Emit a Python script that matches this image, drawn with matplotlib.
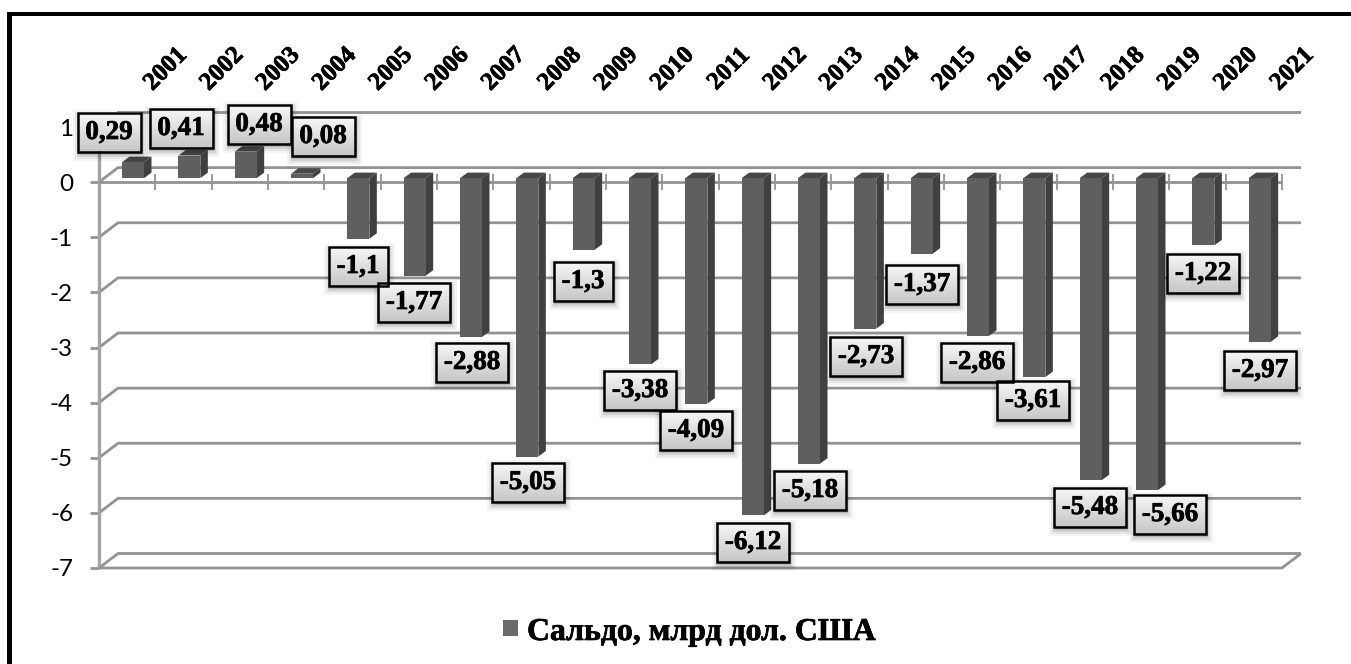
import numpy as np
import matplotlib
matplotlib.use("Agg")
import matplotlib.pyplot as plt
import matplotlib.patheffects as pe
from matplotlib.patches import Polygon, Rectangle

years = [str(y) for y in range(2001, 2022)]
values = [0.29, 0.41, 0.48, 0.08, -1.1, -1.77, -2.88, -5.05, -1.3, -3.38, -4.09,
          -6.12, -5.18, -2.73, -1.37, -2.86, -3.61, -5.48, -5.66, -1.22, -2.97]
value_ticks = [1, 0, -1, -2, -3, -4, -5, -6, -7]
legend_label = "Сальдо, млрд дол. США"
# label-box centres in reference pixels (layout only)
label_centres = [(109,132),(181,128),(259,124),(323,136),(358,266),(414,302),(472,362),
                 (528,482),(583,281),(640,390),(696,430),(753,542),(810,490),(866,356),
                 (922,284),(977,362),(1033,400),(1090,507),(1170,514),(1203,273),(1260,370)]

W, H = 1351, 664
fig = plt.figure(figsize=(W/100, H/100), dpi=100, facecolor="white")
L, R, T, B = 99, 1282, 127, 568
ax = fig.add_axes([L/W, 1-B/H, (R-L)/W, (B-T)/H])
ax.set_xlim(0, 21); ax.set_ylim(-7, 1)
ax.axis("off")
over = fig.add_axes([0, 0, 1, 1], zorder=5)
over.set_xlim(0, W); over.set_ylim(H, 0); over.axis("off"); over.patch.set_alpha(0)

heavy = [pe.withStroke(linewidth=0.5, foreground="black")]
px = 21/(R-L); py = 8/(B-T)
wall_dx, wall_dy = 19*px, 14.5*py
GRID = "#939393"
kw = dict(clip_on=False, color=GRID, lw=2.0, solid_capstyle="butt", solid_joinstyle="miter")
for v in value_ticks:
    ax.plot([0, wall_dx, 21+wall_dx], [v, v+wall_dy, v+wall_dy], zorder=1, **kw)
    ax.plot([-9*px, 0], [v, v], zorder=1, **kw)
ax.plot([0, 0], [-7, 1], zorder=2, clip_on=False, color="#a3a3a3", lw=2.4, solid_capstyle="butt")
ax.plot([0, 21, 21+wall_dx], [-7, -7, -7+wall_dy], zorder=2, **kw)
ax.plot([0, 21], [0, 0], zorder=2, **kw)
for i in range(1, 22):
    ax.plot([i, i], [8*py, -8*py], zorder=2, clip_on=False, color=GRID, lw=1.3, solid_capstyle="butt")

# 3-D columns
bw = 22*px
dx, dy = 7.5*px, 5.5*py
base = 4*py
for i, v in enumerate(values):
    x0 = i + (122-99)*px
    x1 = x0 + bw
    y0 = base; y1 = v + base
    hi, lo = max(y0, y1), min(y0, y1)
    ax.add_patch(Polygon([(x1, lo), (x1+dx, lo+dy), (x1+dx, hi+dy), (x1, hi)], fc="#404040", ec="none", zorder=3, clip_on=False))
    ax.add_patch(Polygon([(x0, hi), (x1, hi), (x1+dx, hi+dy), (x0+dx, hi+dy)], fc="#474747", ec="none", zorder=3, clip_on=False))
    ax.add_patch(Rectangle((x0, lo), bw, hi-lo, fc="#5f5f5f", ec="none", zorder=3, clip_on=False))

for v in value_ticks:
    ax.text(-26*px, v-2*py, str(v), ha="right", va="center", fontsize=17.5, family="Lato", color="black", clip_on=False)
for i, y in enumerate(years):
    over.text(165.5+i*56.33, 69, y, rotation=45, ha="center", va="center", fontsize=18,
              family="Liberation Serif", weight="bold", color="black", path_effects=heavy)

# label boxes
grad = np.linspace(0.97, 0.78, 40).reshape(-1, 1)
for (cx, cy), v in zip(label_centres, values):
    s = f"{v:.2f}".rstrip("0").replace(".", ",") if v != 0.08 else "0,08"
    w = 63 if v >= 0 else 72
    if s in ("-1,1", "-1,3"): w = 59
    h = 39
    x0, x1, y0, y1 = cx-w/2, cx+w/2, cy-h/2, cy+h/2
    for g, a in ((7, .04), (5, .06), (3, .09), (1.5, .12)):
        over.add_patch(Rectangle((x0+2-g, y0+4-g), w+2*g-2, h+2*g-2, fc="black", ec="none", alpha=a, zorder=6))
    over.imshow(grad, extent=(x0, x1, y1, y0), cmap="gray", vmin=0, vmax=1, aspect="auto", zorder=7)
    over.add_patch(Rectangle((x0, y0), w, h, fc="none", ec="black", lw=1.8, zorder=8))
    over.text(cx, cy+0.5, s, ha="center", va="center", fontsize=19.5, family="Liberation Serif", weight="bold",
              zorder=9, path_effects=heavy)
over.set_xlim(0, W); over.set_ylim(H, 0)

# legend
over.add_patch(Rectangle((503, 620), 15, 16, fc="#6a6a6a", ec="none"))
over.text(527, 640, legend_label, ha="left", va="baseline", fontsize=22.9, family="Liberation Serif", weight="bold",
          path_effects=heavy)

# outer frame: top and left edges only
over.add_patch(Rectangle((7, 12), W, 3.8, fc="black", ec="none"))
over.add_patch(Rectangle((7, 12), 5, H, fc="black", ec="none"))

fig.savefig("out.png", dpi=100)
